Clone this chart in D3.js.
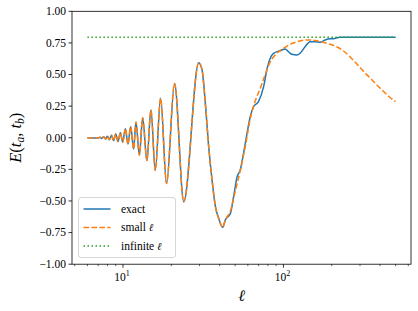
<!DOCTYPE html>
<html><head><meta charset="utf-8">
<script src="https://cdn.jsdelivr.net/npm/d3@7"></script>
<style>
body{margin:0;background:#fff}
svg{display:block}
text{font-family:"Liberation Serif","DejaVu Serif",serif;fill:#000}
.ell{font-family:"DejaVu Serif",serif;font-style:italic}
</style>
</head><body>
<svg id="c" width="418" height="311"></svg>
<script>
// ---- data ----
const oscEll = [6.0, 7.01, 7.19, 7.37, 7.57, 7.78, 7.99, 8.22, 8.47, 8.73, 9.01, 9.31, 9.63, 9.96, 10.35, 10.74, 11.16, 11.65, 12.04, 12.65, 13.26, 14.09, 14.93, 15.89, 17.15, 18.68, 20.95, 23.92, 29.65, 31.1, 32.6, 34.2, 35.9, 37.7, 39.5, 41.8];
const oscE = [0, -0.002, 0.003, -0.005, 0.007, -0.01, 0.012, -0.015, 0.02, -0.022, 0.03, -0.03, 0.04, -0.035, 0.072, -0.05, 0.087, -0.09, 0.125, -0.137, 0.158, -0.18, 0.219, -0.258, 0.312, -0.361, 0.43, -0.506, 0.593, 0.536, 0.272, -0.071, -0.335, -0.546, -0.638, -0.709];
const exactTailEll = [43.4, 46.7, 48.9, 51.4, 53.8, 56.4, 59.3, 62.1, 65.1, 69.9, 75.1, 79.2, 82.7, 86.7, 95.4, 102.5, 107.4, 112.8, 121.1, 127.0, 136.4, 146.6, 157.4, 169.0, 181.6, 190.3, 204.5, 225, 500];
const exactTailE = [-0.651, -0.598, -0.467, -0.309, -0.255, -0.123, 0.035, 0.166, 0.245, 0.285, 0.40, 0.55, 0.628, 0.668, 0.688, 0.702, 0.68, 0.66, 0.654, 0.668, 0.72, 0.759, 0.759, 0.755, 0.773, 0.781, 0.783, 0.794, 0.795];
const smallTailEll = [43.4, 46.7, 50.1, 53.8, 57.8, 62.1, 66.7, 71.7, 77.0, 82.7, 91.0, 100, 110, 121.1, 133.1, 146.6, 161.3, 177.3, 195, 214.6, 235.9, 259.6, 285.8, 314.1, 345.5, 380.3, 417.9, 459.9, 500];
const smallTailE = [-0.65, -0.58, -0.42, -0.26, -0.07, 0.15, 0.29, 0.39, 0.50, 0.60, 0.668, 0.707, 0.739, 0.759, 0.771, 0.774, 0.767, 0.755, 0.739, 0.72, 0.688, 0.641, 0.585, 0.528, 0.475, 0.42, 0.37, 0.32, 0.285];
const infiniteEll = [6, 500];
const infiniteE = [0.795, 0.795];
const yTicks = [-1, -0.75, -0.5, -0.25, 0, 0.25, 0.5, 0.75, 1];
const xMajorTicks = [10, 100];
const xMajorExp = ["1", "2"];
const seriesNames = ["exact", "small \u2113", "infinite \u2113"];
const colors = ["#1f77b4", "#ff7f0e", "#2ca02c"];

// ---- build series ----
const zip = (a, b) => a.map((v, i) => [v, b[i]]);
const exact = zip(oscEll.concat(exactTailEll), oscE.concat(exactTailE));
const small = zip(oscEll.concat(smallTailEll), oscE.concat(smallTailE));
const infinite = zip(infiniteEll, infiniteE);

const L = 72, R = 411, T = 11.3, B = 264.2;
const svg = d3.select("#c");

// matplotlib-like 5% margins in log space
const lo = Math.log10(d3.min(exact, d => d[0])), hi = Math.log10(d3.max(exact, d => d[0]));
const m = (hi - lo) * 0.05;
const x = d3.scaleLog().domain([Math.pow(10, lo - m), Math.pow(10, hi + m)]).range([L, R]);
const y = d3.scaleLinear().domain([-1, 1]).range([B, T]);

const line = d3.line().x(d => x(d[0])).y(d => y(d[1])).curve(d3.curveMonotoneX);

const g = svg.append("g");
g.append("path").attr("d", line(exact)).attr("fill", "none").attr("stroke", colors[0]).attr("stroke-width", 1.5);
g.append("path").attr("d", line(small)).attr("fill", "none").attr("stroke", colors[1]).attr("stroke-width", 1.5).attr("stroke-dasharray", "5.55,2.4");
g.append("path").attr("d", line(infinite)).attr("fill", "none").attr("stroke", colors[2]).attr("stroke-width", 1.5).attr("stroke-dasharray", "1.5,2.5");

// spines
svg.append("rect").attr("x", L).attr("y", T).attr("width", R - L).attr("height", B - T)
  .attr("fill", "none").attr("stroke", "#000").attr("stroke-width", 0.8);

// y ticks
const fmt = v => (v < 0 ? "\u2212" : "") + Math.abs(v).toFixed(2);
yTicks.forEach(v => {
  svg.append("line").attr("x1", L - 3.5).attr("x2", L).attr("y1", y(v)).attr("y2", y(v)).attr("stroke", "#000").attr("stroke-width", 0.8);
  svg.append("text").attr("x", L - 6).attr("y", y(v)).attr("dy", "0.34em").attr("text-anchor", "end")
    .attr("font-size", 11.5).text(fmt(v));
});

// x ticks
const [d0, d1] = x.domain();
const minor = [];
for (let e = 0; e <= 3; e++) for (let k = 2; k <= 9; k++) { const v = k * Math.pow(10, e); if (v >= d0 && v <= d1) minor.push(v); }
minor.forEach(v => {
  svg.append("line").attr("x1", x(v)).attr("x2", x(v)).attr("y1", B).attr("y2", B + 2).attr("stroke", "#000").attr("stroke-width", 0.6);
});
xMajorTicks.forEach((v, i) => {
  svg.append("line").attr("x1", x(v)).attr("x2", x(v)).attr("y1", B).attr("y2", B + 3.5).attr("stroke", "#000").attr("stroke-width", 0.8);
  const t = svg.append("text").attr("x", x(v) - 1).attr("y", B + 16.5).attr("text-anchor", "middle").attr("font-size", 11.5);
  t.append("tspan").text("10");
  t.append("tspan").attr("font-size", 8).attr("dy", -5).text(xMajorExp[i]);
});

// axis labels
svg.append("text").attr("class", "ell").attr("x", (L + R) / 2).attr("y", 301).attr("text-anchor", "middle")
  .attr("font-size", 16).text("\u2113");
const yl = svg.append("text").attr("transform", `translate(21,${(T + B) / 2}) rotate(-90)`)
  .attr("text-anchor", "middle").attr("font-size", 16.5);
yl.append("tspan").attr("font-style", "italic").text("E");
yl.append("tspan").text("(");
yl.append("tspan").attr("font-style", "italic").text("t");
yl.append("tspan").attr("font-style", "italic").attr("font-size", 11.5).attr("dy", 3).text("a");
yl.append("tspan").attr("dy", -3).text(", ");
yl.append("tspan").attr("font-style", "italic").text("t");
yl.append("tspan").attr("font-style", "italic").attr("font-size", 11.5).attr("dy", 3).text("b");
yl.append("tspan").attr("dy", -3).text(")");

// legend
const lg = svg.append("g");
lg.append("rect").attr("x", 78.5).attr("y", 197.5).attr("width", 97).attr("height", 60).attr("rx", 2.5)
  .attr("fill", "#fff").attr("fill-opacity", 0.8).attr("stroke", "#cccccc").attr("stroke-width", 0.8);
const dashes = [null, "5.55,2.4", "1.5,2.5"];
seriesNames.forEach((n, i) => {
  const yy = 209 + i * 18.5;
  const ln = lg.append("line").attr("x1", 83.5).attr("x2", 110.5).attr("y1", yy).attr("y2", yy)
    .attr("stroke", colors[i]).attr("stroke-width", 1.5);
  if (dashes[i]) ln.attr("stroke-dasharray", dashes[i]);
  const t = lg.append("text").attr("x", 121).attr("y", yy).attr("dy", "0.34em").attr("font-size", 11.5);
  const parts = n.split("\u2113");
  t.append("tspan").text(parts[0]);
  if (parts.length > 1) t.append("tspan").attr("class", "ell").attr("font-size", 10.5).text("\u2113");
});
</script>
</body></html>
